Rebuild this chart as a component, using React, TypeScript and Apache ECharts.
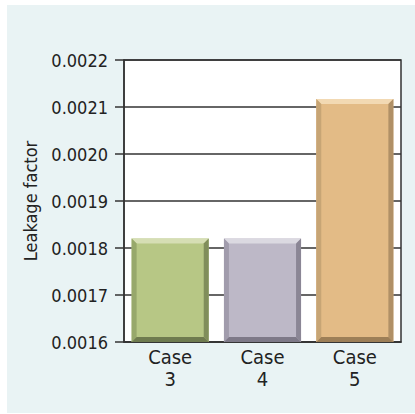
import React, { useEffect, useRef } from "react";
import * as echarts from "echarts";

const categories = ["Case\n3", "Case\n4", "Case\n5"];
const values = [0.00182, 0.00182, 0.002117];
const yTicks = { min: 0.0016, max: 0.0022, interval: 0.0001 };
const yAxisName = "Leakage factor";
const barColors = [
  { main: "#b7c785", top: "#d6deb4", left: "#97a86b", right: "#808e5b", bottom: "#6f7b4f" },
  { main: "#bdb8c7", top: "#dbd9e1", left: "#a19cac", right: "#8b8695", bottom: "#7e7988" },
  { main: "#e3bb86", top: "#f2d9b3", left: "#c7a575", right: "#b09066", bottom: "#9d7f57" },
];

export default function App() {
  const ref = useRef<HTMLDivElement>(null);
  useEffect(() => {
    if (!ref.current) return;
    const chart = echarts.init(ref.current, null, { renderer: "svg" });
    const font = "'DejaVu Sans Condensed', 'Liberation Sans Narrow', Arial, sans-serif";
    chart.setOption({
      animation: false,
      backgroundColor: "#ffffff",
      graphic: [
        {
          type: "rect",
          z: -10,
          silent: true,
          shape: { x: 7, y: 5, width: 408, height: 408 },
          style: { fill: "#e9f3f4" },
        },
      ],
      grid: {
        left: 124,
        top: 60,
        width: 277,
        height: 282,
        show: true,
        backgroundColor: "#ffffff",
        borderColor: "#333333",
        borderWidth: 1.5,
      },
      xAxis: {
        type: "category",
        data: categories,
        axisTick: { show: false },
        axisLine: { lineStyle: { color: "#333333", width: 1.5 } },
        axisLabel: {
          color: "#222222",
          fontSize: 20,
          lineHeight: 22,
          fontFamily: font,
          margin: 4,
        },
      },
      yAxis: {
        type: "value",
        min: yTicks.min,
        max: yTicks.max,
        interval: yTicks.interval,
        name: yAxisName,
        nameLocation: "middle",
        nameGap: 85,
        nameTextStyle: { color: "#222222", fontSize: 18, fontFamily: font },
        axisLine: { show: true, lineStyle: { color: "#333333", width: 1.5 } },
        axisTick: { show: true, length: 9, lineStyle: { color: "#333333", width: 1.5 } },
        splitLine: { show: true, lineStyle: { color: "#333333", width: 1.5 } },
        axisLabel: {
          color: "#222222",
          fontSize: 18,
          fontFamily: font,
          margin: 16,
          formatter: (v: number) => v.toFixed(4),
        },
      },
      series: [
        {
          type: "custom",
          data: values.map((v, i) => [i, v]),
          z: 5,
          renderItem: (params: any, api: any) => {
            const i = api.value(0);
            const v = api.value(1);
            const topPt = api.coord([i, v]);
            const botPt = api.coord([i, yTicks.min]);
            const band = api.size([1, 0])[0];
            const w = band * 0.835;
            const x0 = topPt[0] - w / 2;
            const x1 = topPt[0] + w / 2;
            const y0 = topPt[1];
            const y1 = botPt[1];
            const b = 5;
            const c = barColors[i];
            return {
              type: "group",
              children: [
                { type: "rect", shape: { x: x0, y: y0, width: w, height: y1 - y0 }, style: { fill: c.main } },
                { type: "polygon", shape: { points: [[x0, y0], [x1, y0], [x1 - b, y0 + b], [x0 + b, y0 + b]] }, style: { fill: c.top } },
                { type: "polygon", shape: { points: [[x0, y0], [x0 + b, y0 + b], [x0 + b, y1 - b], [x0, y1]] }, style: { fill: c.left } },
                { type: "polygon", shape: { points: [[x1, y0], [x1, y1], [x1 - b, y1 - b], [x1 - b, y0 + b]] }, style: { fill: c.right } },
                { type: "polygon", shape: { points: [[x0, y1], [x0 + b, y1 - b], [x1 - b, y1 - b], [x1, y1]] }, style: { fill: c.bottom } },
              ],
            };
          },
        },
      ],
    });
    return () => chart.dispose();
  }, []);
  return (
    <div
      ref={ref}
      style={{ position: "absolute", left: 0, top: 0, width: 415, height: 414 }}
    />
  );
}
